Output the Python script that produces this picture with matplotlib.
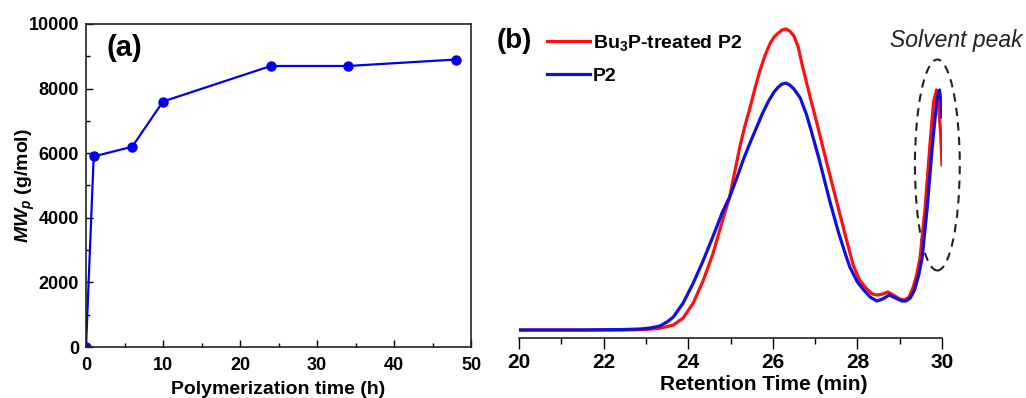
import numpy as np
import matplotlib
matplotlib.use("Agg")
import matplotlib.pyplot as plt
from matplotlib.patches import Ellipse

plt.rcParams['font.family'] = ['Liberation Sans', 'DejaVu Sans']
plt.rcParams['font.weight'] = 'bold'
plt.rcParams['mathtext.fontset'] = 'custom'
plt.rcParams['mathtext.rm'] = 'Liberation Sans:bold'
plt.rcParams['mathtext.it'] = 'Liberation Sans:bold:italic'
plt.rcParams['mathtext.bf'] = 'Liberation Sans:bold'

# panel (a): peak molecular weight vs polymerization time
time_h = [0, 1, 6, 10, 24, 34, 48]
mw_p = [0, 5900, 6200, 7600, 8700, 8700, 8900]

# panel (b): GPC traces (arbitrary intensity)
rt_treated = [20, 21.5, 22.5, 23.0, 23.33, 23.65, 23.88, 24.12, 24.36, 24.59,
              24.8, 24.98, 25.1, 25.22, 25.34, 25.46, 25.58, 25.70, 25.82, 25.93,
              26.03, 26.13, 26.22, 26.31, 26.4, 26.5, 26.6, 26.7, 26.8, 26.9,
              27.0, 27.1, 27.3, 27.5, 27.7, 27.9, 28.05, 28.2, 28.35, 28.47,
              28.6, 28.72, 28.85, 29.0, 29.12, 29.22, 29.32, 29.4, 29.48, 29.6,
              29.72, 29.8, 29.87, 29.92, 29.97, 30.0]
sig_treated = [0, 0, 0, 0.5, 1.7, 5, 12, 27, 50, 77,
               108, 133, 158, 183, 204, 222, 242, 260, 275, 286,
               293, 297, 300, 301, 299, 294, 283, 264, 247, 230,
               214, 197, 163, 130, 97, 65, 50, 42, 36, 35,
               36, 38, 35, 31, 30, 33, 43, 55, 72, 122,
               188, 228, 240, 225, 195, 165]
rt_p2 = [20, 21.5, 22.5, 22.86, 23.1, 23.33, 23.5, 23.65, 23.88, 24.12,
         24.36, 24.59, 24.8, 24.98, 25.15, 25.3, 25.46, 25.6, 25.75, 25.9,
         26.03, 26.13, 26.22, 26.31, 26.4, 26.5, 26.65, 26.8, 26.91, 27.1,
         27.34, 27.55, 27.7, 27.82, 28.0, 28.15, 28.3, 28.46, 28.6, 28.75,
         28.9, 29.05, 29.15, 29.25, 29.35, 29.45, 29.53, 29.65, 29.78, 29.88,
         29.94, 29.98, 30.0]
sig_p2 = [0, 0, 0.5, 1, 2, 4, 8, 13, 27, 47,
          70, 94, 117, 133, 152, 170, 187, 201, 216, 229,
          238, 243, 246, 247, 245, 241, 232, 215, 199, 170,
          130, 98, 78, 63, 48, 40, 33, 29, 31, 35,
          32, 29, 29, 32, 40, 55, 72, 122, 188, 230,
          240, 228, 213]

W, H = 1026, 398
fig = plt.figure(figsize=(W / 100, H / 100), dpi=100)

# ---- panel (a)
ax1 = fig.add_axes([86 / W, 1 - 347 / H, (471 - 86) / W, (347 - 24) / H])
ax1.plot(time_h, mw_p, '-o', color='#0000ee', lw=1.6, ms=6.5)
ax1.set_xlim(0, 50)
ax1.set_ylim(0, 10000)
ax1.set_xticks(range(0, 51, 10))
ax1.set_xticks(range(5, 50, 10), minor=True)
ax1.set_yticks(range(0, 10001, 2000))
ax1.set_yticks(range(1000, 10000, 2000), minor=True)
ax1.tick_params(which='both', direction='in', labelsize=13)
ax1.tick_params(which='major', length=5, width=1)
ax1.tick_params(which='minor', length=3, width=1)
ax1.tick_params(axis='x', pad=7)
ax1.tick_params(axis='y', pad=5)
for s in ax1.spines.values():
    s.set_linewidth(1.2)
    s.set_color('#222222')
ax1.set_xlabel('Polymerization time (h)', fontsize=14, fontweight='bold', labelpad=5)
ax1.set_ylabel(r'$\mathit{MW}_\mathit{p}$ (g/mol)', fontsize=14, fontweight='bold')
ax1.yaxis.set_label_coords(-0.128, 0.5)
fig.text(107 / W, 1 - 48 / H, '(a)', fontsize=21, fontweight='bold', va='center', ha='left')

# ---- panel (b)
ax2 = fig.add_axes([519 / W, 1 - 338 / H, (942 - 519) / W, (338 - 24) / H])
ax2.plot(rt_treated, sig_treated, color='#ff1010', lw=2.3, solid_joinstyle='round',
         label=r'Bu$_\mathbf{3}$P-treated P2')
ax2.plot(rt_p2, sig_p2, color='#1010dd', lw=2.3, solid_joinstyle='round', label='P2')
ax2.set_xlim(20, 30)
ax2.set_ylim(-8, 306)
ax2.set_xticks(range(20, 31, 2))
ax2.set_xticks(range(21, 30, 2), minor=True)
ax2.set_yticks([])
for side in ['left', 'right', 'top']:
    ax2.spines[side].set_visible(False)
ax2.spines['bottom'].set_linewidth(1.2)
ax2.spines['bottom'].set_color('#222222')
ax2.tick_params(which='both', direction='out', labelsize=15)
ax2.tick_params(which='major', length=8, width=1)
ax2.tick_params(which='minor', length=4, width=1)
ax2.tick_params(axis='x', pad=3)
ax2.set_xlabel('Retention Time (min)', fontsize=15, fontweight='bold')
ax2.xaxis.set_label_coords(0.579, -0.117)

ell = Ellipse((29.89, 165), width=1.06, height=211, fill=False, ls=(0, (4, 3)),
              lw=1.5, color='#222222', clip_on=False)
ax2.add_patch(ell)
fig.text(1023 / W, 1 - 41 / H, 'Solvent peak', fontsize=16.5, fontstyle='italic',
         fontweight='normal', ha='right', va='center', color='#222222')
fig.text(497 / W, 1 - 41 / H, '(b)', fontsize=20, fontweight='bold', va='center', ha='left')
ax2.legend(loc='upper left', bbox_to_anchor=(547 / W, 1 - 33 / H),
           bbox_transform=fig.transFigure, frameon=False, fontsize=14,
           handlelength=2.2, handletextpad=0.15, labelspacing=0.75,
           borderpad=0, borderaxespad=0)

fig.savefig('out.png', dpi=100)
